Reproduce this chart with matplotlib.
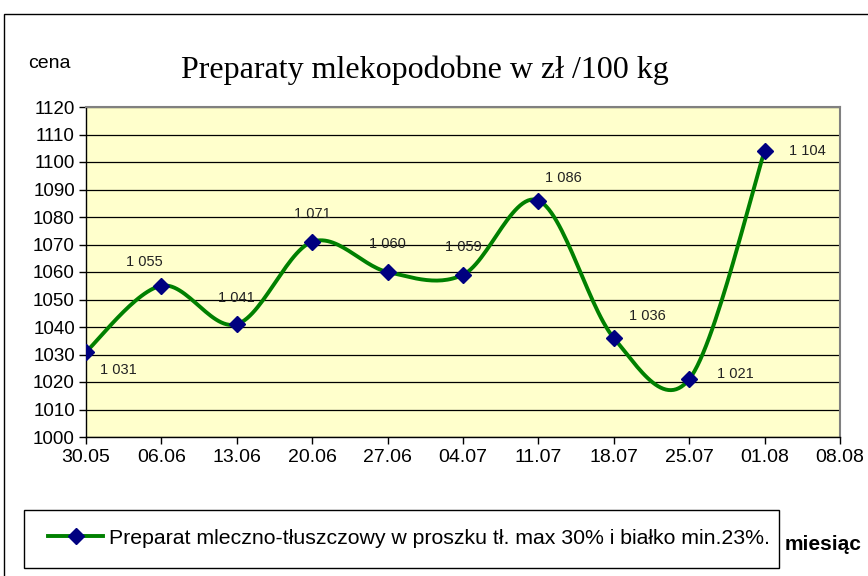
import numpy as np
import matplotlib
matplotlib.use("Agg")
import matplotlib.pyplot as plt
from matplotlib.patches import Rectangle

dates = ["30.05", "06.06", "13.06", "20.06", "27.06", "04.07",
         "11.07", "18.07", "25.07", "01.08", "08.08"]
prices = [1031, 1055, 1041, 1071, 1060, 1059, 1086, 1036, 1021, 1104]
series_name = "Preparat mleczno-tłuszczowy w proszku tł. max 30% i białko min.23%."

# label offsets in points (dx, dy)
label_offsets = [(23, -13), (-12, 17), (0, 19), (0, 20), (0, 20),
                 (0, 20), (18, 16), (24, 16), (33, 4), (31, 0)]


def smooth_curve(x, y, steps=30):
    """Excel-like smoothing: cubic Bezier with Catmull-Rom control points."""
    x = np.asarray(x, float)
    y = np.asarray(y, float)
    px = np.concatenate([[x[0]], x, [x[-1]]])
    py = np.concatenate([[y[0]], y, [y[-1]]])
    xs, ys = [], []
    t = np.linspace(0, 1, steps)
    for i in range(1, len(px) - 2):
        p0 = np.array([px[i], py[i]])
        p3 = np.array([px[i + 1], py[i + 1]])
        c1 = p0 + (np.array([px[i + 1], py[i + 1]]) - np.array([px[i - 1], py[i - 1]])) / 6
        c2 = p3 - (np.array([px[i + 2], py[i + 2]]) - np.array([px[i], py[i]])) / 6
        b = ((1 - t) ** 3)[:, None] * p0 + (3 * (1 - t) ** 2 * t)[:, None] * c1 \
            + (3 * (1 - t) * t ** 2)[:, None] * c2 + (t ** 3)[:, None] * p3
        xs.extend(b[:, 0])
        ys.extend(b[:, 1])
    return np.array(xs), np.array(ys)


plt.rcParams["font.family"] = ["Liberation Sans", "DejaVu Sans"]

W, H = 868, 576
fig = plt.figure(figsize=(W / 100, H / 100), dpi=100)
# outer chart frame
fig.patches.append(Rectangle((4 / W, -0.1), 1.2, 1.1 - 14 / H,
                             transform=fig.transFigure, fill=False,
                             edgecolor="black", linewidth=1.0))
# legend frame
fig.patches.append(Rectangle((24 / W, 1 - 568 / H), (779 - 24) / W, 58 / H,
                             transform=fig.transFigure, fill=False,
                             edgecolor="black", linewidth=1.0))

ax = fig.add_axes([86 / W, 1 - 437 / H, (840 - 86) / W, (437 - 107) / H])
ax.set_facecolor("#FFFFCC")

x = np.arange(len(prices))
sx, sy = smooth_curve(x, prices)
ax.plot(sx, sy, color="#008000", linewidth=2.8, zorder=3)
ax.plot(x, prices, linestyle="none", marker="D", markersize=8.5,
        color="#000080", zorder=4)
ax.plot([], [], color="#008000", linewidth=2.8, marker="D", markersize=8.5,
        markerfacecolor="#000080", markeredgecolor="#000080", label=series_name)

for xi, v, (dx, dy) in zip(x, prices, label_offsets):
    ax.annotate(f"{v // 1000} {v % 1000:03d}", (xi, v), xytext=(dx, dy),
                textcoords="offset points", ha="center", va="center",
                fontsize=10.5, color="#222222", zorder=5)

ax.set_xlim(0, len(dates) - 1)
ax.set_ylim(1000, 1120)
ax.set_yticks(np.arange(1000, 1121, 10))
ax.set_xticks(np.arange(len(dates)))
ax.set_xticklabels(dates, fontsize=14)
ax.set_yticklabels([str(v) for v in range(1000, 1121, 10)], fontsize=13.5)
ax.tick_params(axis="both", direction="out", length=5, width=1, pad=4)
ax.tick_params(axis="y", pad=3)
ax.yaxis.grid(True, color="black", linewidth=0.9)
ax.set_axisbelow(True)
for side in ["top", "right"]:
    ax.spines[side].set_color("#808080")
    ax.spines[side].set_linewidth(1.5)
ax.spines["left"].set_linewidth(1)
ax.spines["bottom"].set_linewidth(1)

fig.text(28 / W, 1 - 64 / H, "cena", fontsize=14, va="center", ha="left")
fig.text(425 / W, 1 - 70 / H, "Preparaty mlekopodobne w zł /100 kg",
         family="Liberation Serif", fontsize=23, ha="center", va="center")
fig.text(785 / W, 1 - 545 / H, "miesiąc", fontsize=15, ha="left",
         va="center", fontweight="bold")

leg = fig.legend(loc="center left", bbox_to_anchor=(48 / W, 1 - 538 / H),
                 frameon=False, fontsize=15.3, handlelength=2.6,
                 borderpad=0, borderaxespad=0, handletextpad=0.25)

fig.savefig("out.png", dpi=100)
